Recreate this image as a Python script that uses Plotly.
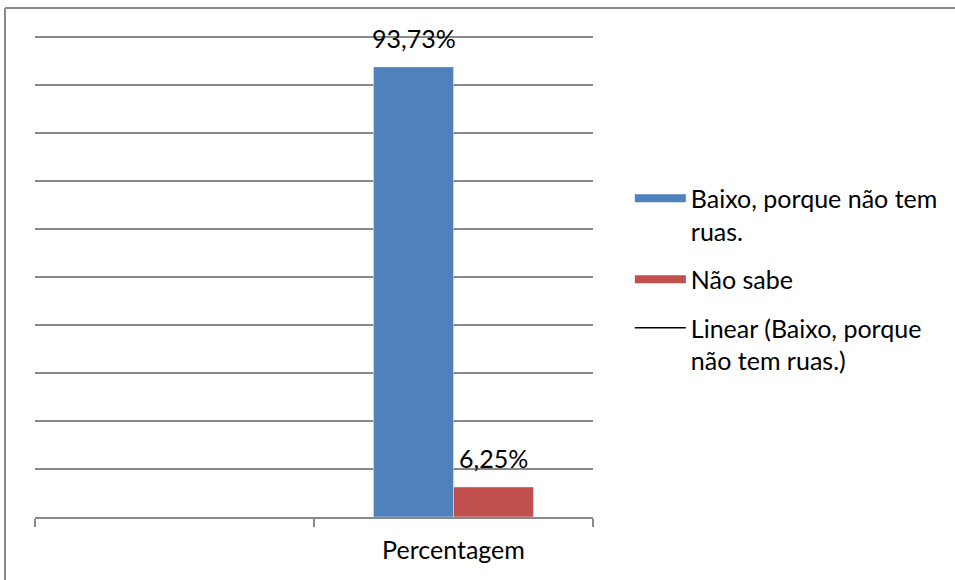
import plotly.graph_objects as go

categories = [" ", "Percentagem"]
baixo = [None, 0.9373]
nao_sabe = [None, 0.0625]
series_names = ["Baixo, porque não tem<br>ruas.", "Não sabe", "Linear (Baixo, porque<br>não tem ruas.)"]

BLUE = "#4F81BD"
RED = "#C0504D"
GRID = "#898989"
FONT = "Lato"
FS = 25

fig = go.Figure()
fig.add_trace(go.Bar(x=categories, y=baixo, marker_color=BLUE, showlegend=False, name=series_names[0]))
fig.add_trace(go.Bar(x=categories, y=nao_sabe, marker_color=RED, showlegend=False, name=series_names[1]))

# legend entries (Excel-like wide swatches)
fig.add_trace(go.Scatter(x=[None], y=[None], mode="lines", line=dict(color=BLUE, width=8),
                         name=series_names[0], legendgroup="a"))
fig.add_trace(go.Scatter(x=[None], y=[None], mode="lines", line=dict(color=RED, width=8),
                         name=series_names[1], legendgroup="b"))
fig.add_trace(go.Scatter(x=[None], y=[None], mode="lines", line=dict(color="black", width=1.5),
                         name=series_names[2], legendgroup="c"))

# data labels
for vals, shift in ((baixo, -40), (nao_sabe, 40)):
    for c, v in zip(categories, vals):
        if v is None:
            continue
        fig.add_annotation(x=c, y=v, text=f"{v*100:.2f}%".replace(".", ","), showarrow=False,
                           xshift=shift, yanchor="bottom", yshift=12,
                           font=dict(family=FONT, size=FS, color="black"))

# outer chart border (top & left visible in crop)
fig.add_shape(type="line", xref="paper", yref="paper", x0=-0.0538, x1=1.7, y0=1.0495, y1=1.0495,
              line=dict(color=GRID, width=2))
fig.add_shape(type="line", xref="paper", yref="paper", x0=-0.0538, x1=-0.0538, y0=1.0495, y1=-0.3,
              line=dict(color=GRID, width=2))

fig.update_layout(
    width=955, height=580,
    margin=dict(l=35, r=362, t=32, b=63),
    paper_bgcolor="white", plot_bgcolor="white",
    barmode="group", bargap=0.4265, bargroupgap=0,
    separators=", ",
    font=dict(family=FONT, size=FS, color="black"),
    showlegend=True,
    legend=dict(x=1.066, xanchor="left", y=0.704, yanchor="top", itemwidth=51, valign="top",
                traceorder="grouped", tracegroupgap=13,
                font=dict(family=FONT, size=FS, color="black"), bgcolor="rgba(0,0,0,0)"),
    xaxis=dict(type="category", showline=True, linecolor=GRID, linewidth=1.5,
               ticks="outside", ticklen=8, tickcolor=GRID, tickwidth=1.5, tickson="boundaries",
               ticklabelstandoff=10,
               showgrid=False, tickfont=dict(family=FONT, size=FS, color="black")),
    yaxis=dict(range=[0, 1.01], tickvals=[0.1, 0.2, 0.3, 0.4, 0.5, 0.6, 0.7, 0.8, 0.9, 1.0],
               showticklabels=False, showgrid=True, gridcolor=GRID,
               gridwidth=1.5, zeroline=False, showline=False, ticks=""),
)

fig.write_html("out.html", config={"displayModeBar": False},
               post_script="document.body.style.margin='0';")
